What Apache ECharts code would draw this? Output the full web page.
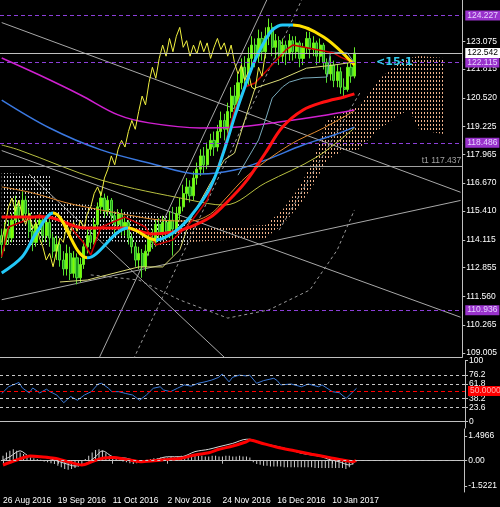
<!DOCTYPE html>
<html>
<head>
<meta charset="utf-8">
<script src="https://cdn.jsdelivr.net/npm/echarts@6.0.0/dist/echarts.min.js"></script>
<style>
  html, body { margin: 0; padding: 0; background: #000; }
  #chart { width: 500px; height: 507px; }
</style>
</head>
<body>
<div id="chart"></div>
<script>
// ---- data ----
const dateLabels = ['26 Aug 2016', '19 Sep 2016', '11 Oct 2016', '2 Nov 2016', '24 Nov 2016', '16 Dec 2016', '10 Jan 2017'];
const labelStep = 16;
const barCount = 135; // 104 candles + 26 bars of cloud ahead + margin

// [open, close, low, high]
const candles = [
  [114.3,113.9,113.3,114.6],[113.9,114.6,113.6,114.9],[114.6,114.2,113.9,115.0],[114.2,115.0,114.0,115.3],
  [115.0,115.6,114.8,116.1],[115.6,115.2,114.9,115.9],[115.2,115.9,115.0,116.3],[115.9,115.3,115.0,116.1],
  [115.3,114.5,114.2,115.5],[114.5,114.0,113.6,114.8],[114.0,114.8,113.8,115.2],[114.8,115.0,114.4,115.3],
  [115.0,114.3,114.0,115.2],[114.3,114.9,114.0,115.2],[114.9,114.2,113.8,115.1],[114.2,113.6,113.3,114.4],
  [113.6,113.9,113.2,114.3],[113.9,113.2,112.9,114.1],[113.2,112.8,112.5,113.6],[112.8,113.5,112.5,113.9],
  [113.5,112.6,112.3,113.8],[112.6,113.3,112.4,113.6],[113.3,112.4,112.1,113.5],[112.4,113.0,112.2,113.3],
  [113.0,113.8,112.8,114.1],[113.8,114.3,113.5,114.6],[114.3,114.0,113.7,114.7],[114.0,114.8,113.9,115.1],
  [114.8,115.6,114.6,115.8],[115.6,116.0,115.3,116.3],[116.0,115.4,115.1,116.2],[115.4,115.9,115.2,116.1],
  [115.9,115.2,114.9,116.0],[115.2,114.8,114.4,115.4],[114.8,115.3,114.6,115.5],[115.3,114.6,114.3,115.5],
  [114.6,114.9,114.3,115.2],[114.9,114.2,113.9,115.0],[114.2,113.8,113.5,114.4],[113.8,113.2,112.9,114.0],
  [113.2,113.5,112.8,113.8],[113.5,112.9,112.4,113.7],[112.9,113.6,112.7,113.9],[113.6,114.2,113.4,114.5],
  [114.2,114.0,113.7,114.6],[114.0,114.8,113.8,115.0],[114.8,114.4,114.1,115.1],[114.4,114.9,114.2,115.2],
  [114.9,114.5,114.1,115.1],[114.5,115.0,114.2,115.4],[115.0,114.6,113.4,115.6],[114.6,115.3,114.4,115.6],
  [115.3,115.6,115.0,116.0],[115.6,116.2,115.4,116.6],[116.2,116.5,115.9,116.9],[116.5,116.1,115.8,116.8],
  [116.1,116.9,115.9,117.2],[116.9,117.3,116.6,117.6],[117.3,117.9,117.0,118.2],[117.9,117.5,117.1,118.3],
  [117.5,118.2,117.3,118.5],[118.2,118.6,117.9,118.9],[118.6,118.3,117.9,119.0],[118.3,119.0,118.1,119.3],
  [119.0,119.5,118.7,119.9],[119.5,119.1,118.6,119.8],[119.1,119.9,118.9,120.3],[119.9,120.6,119.6,121.0],
  [120.6,120.2,119.8,121.1],[120.2,121.2,120.0,121.6],[121.2,121.9,120.9,122.3],[121.9,121.4,120.9,122.4],
  [121.4,122.3,121.1,122.8],[122.3,122.9,121.9,123.3],[122.9,122.4,121.9,123.2],[122.4,123.2,122.1,123.6],
  [123.2,122.6,122.2,123.5],[122.6,123.3,122.3,123.7],[123.3,123.7,122.9,124.1],[123.7,122.8,122.4,123.9],
  [122.8,123.1,122.3,123.4],[123.1,122.4,122.0,123.3],[122.4,122.9,122.1,123.2],[122.9,122.5,122.0,123.1],
  [122.5,123.1,122.2,123.4],[123.1,122.6,122.2,123.3],[122.6,123.0,122.3,123.3],[123.0,122.3,121.9,123.1],
  [122.3,122.8,122.0,123.0],[122.8,123.2,122.5,123.5],[123.2,122.7,122.3,123.5],[122.7,123.0,122.4,123.3],
  [123.0,122.4,122.0,123.1],[122.4,122.9,122.1,123.2],[122.9,122.1,121.8,123.0],[122.1,121.6,121.2,122.3],
  [121.6,122.0,121.3,122.4],[122.0,121.3,121.0,122.2],[121.3,121.7,121.0,122.0],[121.7,121.0,120.7,121.9],
  [121.0,120.9,120.6,121.4],[120.9,121.9,120.8,122.1],[121.9,121.5,121.2,122.2],[121.5,122.542,121.4,122.8]
];
const chikouShift = 26;

// colour-changing moving average: [bar, price]
const maLine = [[0,112.62],[6,113.35],[10,114.4],[15,115.32],[25,113.30],[37,114.65],[45,114.11],[50,114.42],
  [55,115.14],[61,116.50],[65,118.17],[68,119.66],[71,121.01],[74,122.23],[77,123.13],[79,123.58],
  [82,123.81],[85,123.81],[94,123.27],[103,122.00]];
const maTurns = [15, 25, 37, 45, 85];
const redMa = [[0,115.14],[13,115.14],[24,114.65],[36,114.65],[44,114.38],[50,114.47],[55,114.69],[61,115.14],
  [65,115.69],[71,116.68],[77,118.03],[82,119.20],[88,119.97],[94,120.33],[100,120.56],[103,120.70]];
const magentaMa = [[0,122.32],[11,121.55],[23,120.65],[34,119.75],[43,119.39],[58,119.16],[69,119.20],[81,119.43],[93,119.70],[103,119.97]];
const blueMa = [[0,120.42],[14,119.16],[29,118.17],[43,117.58],[58,117.08],[68,117.26],[77,117.71],[88,118.39],[97,118.84],[103,119.20]];
const orangeMa = [[0,116.50],[9,116.23],[19,115.78],[29,115.46],[37,115.23],[46,115.01],[55,114.96],[61,115.28],
  [65,115.91],[72,117.04],[84,118.39],[94,119.16],[103,119.93]];
const oliveMa = [[0,118.39],[5,118.17],[29,116.81],[55,115.91],[65,115.68],[77,116.68],[92,117.85],[103,119.16]];
const khakiLine = [[17,112.21],[25,112.30],[40,112.89],[47,112.89],[52,113.66],[55,115.01],[61,116.68],[65,117.72],
  [68,118.03],[71,119.52],[74,120.96],[81,121.32],[89,121.86],[97,122.00],[103,122.14]];
const tealLine = [[69,117.03],[75,118.62],[77,119.52],[79,120.51],[82,121.01],[84,121.23],[88,121.41],[95,121.46],
  [96,122.59],[101,122.54],[103,122.09]];
const tenkan = [[0,113.34],[2,114.69],[11,115.23],[19,114.87],[24,113.97],[26,113.43],[29,114.69],[36,115.14],
  [42,114.69],[45,113.88],[50,114.11],[55,114.87],[60,115.91],[61,116.36],[65,118.29],[68,119.97],[71,121.01],
  [74,121.19],[83,122.68],[85,122.90],[88,122.81],[97,122.54],[99,122.36],[103,122.09]];

// ichimoku cloud outlines
const cloudWhiteBars = [0, 14, 15, 26, 36, 45, 55];
const cloudWhiteTop = [117.13, 117.04, 115.82, 115.68, 115.37, 115.32, 115.01];
const cloudWhiteBottom = [113.88, 113.88, 114.11, 114.11, 114.02, 113.88, 113.88];
const cloudSandBars = [55, 66, 77, 82, 87, 91, 95, 100, 104, 110, 116, 119, 122, 129];
const cloudSandTop = [114.69, 114.69, 114.78, 115.46, 116.50, 117.72, 119.52, 119.88, 120.11, 121.33, 122.14, 122.32, 122.41, 122.32];
const cloudSandBottom = [114.02, 114.11, 114.20, 114.78, 115.68, 116.59, 117.72, 118.17, 118.17, 119.07, 119.75, 119.97, 119.07, 118.89];

// trend lines: [[bar, price], [bar, price]]
const trendSolid = [
  [[0,123.916],[134,116.26]],
  [[0,111.41],[134,115.89]],
  [[0,118.14],[134,110.62]],
  [[27,108.30],[79,125.46]],
  [[8,117.07],[66,108.67]]
];
const trendDashed = [
  [[37,108.24],[89,125.40]],
  [[81,114.55],[105,120.85]],
  [[26,112.53],[40,112.30],[52,111.40],[66,110.58],[78,110.95],[90,111.85],[98,113.66],[103,115.46]]
];

const levelsPurple = [124.227, 122.115, 118.486, 110.936];
const lastPrice = 122.542;
const targetLevel = 117.437;
const priceTicks = [123.075, 121.815, 120.520, 119.225, 117.965, 116.670, 115.410, 114.115, 112.855, 111.560, 110.265, 109.005];

const rsiLine = [[0,46],[2,57],[5,64],[6,55],[8,47],[9,55],[11,47],[13,53],[14,49],[16,43.5],[18,31],[20,41],[22,35],
  [24,43.5],[26,49],[28,61.5],[29,62.6],[31,54.5],[32,49],[34,49],[36,46],[38,43.5],[40,35],[42,43.5],[44,54.5],
  [46,57],[47,51.7],[49,49],[51,54.5],[53,60],[55,58],[57,62.6],[59,65],[61,68],[63,72.4],[64,77.8],[66,65],
  [67,72.4],[69,76],[71,74.6],[72,76],[74,62.6],[76,67],[79,70.8],[80,67],[81,60],[84,61.5],[87,57],[89,61.5],
  [92,57],[93,60],[96,49],[98,47.3],[100,38],[102,49],[103,54.5]];
const rsiLevels = [76.2, 61.8, 38.2, 23.6];
const rsiTicks = [100, 76.2, 61.8, 38.2, 23.6, 0];

const macdMain = [[0,0.04],[2,0.24],[5,0.6],[8,0.24],[11,0.24],[15,0.04],[18,-0.16],[21,-0.32],[24,-0.2],[27,0.24],
  [29,0.6],[32,0.24],[36,0.15],[40,-0.06],[44,0.04],[48,0.24],[52,0.24],[56,0.55],[60,0.69],[63,0.85],[67,1.05],
  [71,1.3],[72,1.3],[75,1.05],[78,0.95],[81,0.81],[84,0.65],[87,0.45],[90,0.35],[93,0.24],[95,0.08],[98,-0.06],
  [101,-0.26],[103,0]];
const macdSignal = [[0,-0.26],[4,0.04],[8,0.28],[11,0.24],[15,0.15],[19,-0.06],[23,-0.26],[26,-0.06],[29,0.15],
  [32,0.2],[36,0.08],[40,-0.06],[44,0],[48,0.08],[52,0.15],[56,0.35],[60,0.48],[63,0.69],[67,0.89],[71,1.15],
  [72,1.25],[75,1.09],[80,0.81],[85,0.6],[90,0.39],[95,0.2],[99,0.04],[102,-0.06],[103,0]];
const macdHist = [0.3,0.5,0.6,0.7,0.6,0.5,0.4,0.3, 0.2,0.15,0.1,0.05,-0.05,-0.1,-0.15,-0.2,
  -0.3,-0.4,-0.5,-0.55,-0.5,-0.45,-0.35,-0.2, 0.1,0.3,0.5,0.65,0.7,0.6,0.45,0.3,
  0.2,0.1,0.05,-0.05,-0.1,-0.15,-0.2,-0.15, -0.1,-0.05,0.05,0.1,0.15,0.15,0.2,0.2,
  0.2,0.25,0.2,0.25,0.3,0.3,0.3,0.25, 0.3,0.3,0.3,0.25,0.25,0.3,0.3,0.25,
  0.25,0.3,0.3,0.25,0.25,0.3,0.25,0.25, 0.2,-0.1,-0.2,-0.25,-0.3,-0.3,-0.35,-0.35,
  -0.35,-0.35,-0.4,-0.4,-0.4,-0.4,-0.4,-0.4, -0.4,-0.4,-0.4,-0.45,-0.45,-0.45,-0.45,-0.45,
  -0.45,-0.45,-0.45,-0.45,-0.5,-0.4,-0.25,-0.05];
const macdTicks = [1.4966, 0, -1.5221];

// ---- chart ----
const font = 'Liberation Sans';
const fs = 8.5;
const cats = Array.from({ length: barCount }, (_, i) => String(i));
const showDate = (i) => i % labelStep === 0 && i / labelStep < dateLabels.length;

function dotPattern(color) {
  const c = document.createElement('canvas');
  c.width = 3; c.height = 4;
  const ctx = c.getContext('2d');
  ctx.fillStyle = color;
  ctx.fillRect(1, 0, 1, 2);
  return { image: c, repeat: 'repeat' };
}

function cloud(bars, top, bottom, color) {
  return {
    type: 'custom', xAxisIndex: 0, yAxisIndex: 0, z: 1, silent: true,
    data: [[bars[0], top[0]]],
    renderItem: function (params, api) {
      const pts = [];
      for (let k = 0; k < bars.length; k++) pts.push(api.coord([bars[k], top[k]]));
      for (let k = bars.length - 1; k >= 0; k--) pts.push(api.coord([bars[k], bottom[k]]));
      return { type: 'polygon', shape: { points: pts }, style: { fill: dotPattern(color) } };
    }
  };
}

function line(data, color, width, extra) {
  return Object.assign({
    type: 'line', xAxisIndex: 0, yAxisIndex: 0, data: data, symbol: 'none', silent: true,
    smooth: 0.35, z: 3, lineStyle: { color: color, width: width }
  }, extra || {});
}

function tag(val, lineColor, bg, fg, dashed, text) {
  return {
    yAxis: val,
    lineStyle: { color: lineColor, width: 1, type: dashed ? [4, 3] : 'solid' },
    label: {
      show: true, position: 'end', distance: 3, formatter: text || val.toFixed(3),
      backgroundColor: bg, color: fg, padding: [1, 2, 0, 2], fontSize: fs, fontFamily: font
    }
  };
}

const series = [];
series.push(cloud(cloudWhiteBars, cloudWhiteTop, cloudWhiteBottom, '#d8d8d8'));
series.push(cloud(cloudSandBars, cloudSandTop, cloudSandBottom, '#f2b48c'));

trendSolid.forEach(t => series.push(line(t, '#a8a8a8', 1, { smooth: false, z: 2 })));
trendDashed.forEach(t => series.push(line(t, '#9a9a9a', 1, { smooth: false, z: 2, lineStyle: { color: '#9a9a9a', width: 1, type: [3, 3] } })));

series.push({
  type: 'candlestick', xAxisIndex: 0, yAxisIndex: 0, data: candles, barWidth: 2.6, z: 2, silent: true,
  itemStyle: { color: '#7cfc00', color0: '#1e9a1e', borderColor: '#66ee22', borderColor0: '#55dd33', borderWidth: 1 },
  markLine: {
    symbol: ['none', 'none'], silent: true, animation: false,
    data: levelsPurple.map(v => tag(v, '#8c3fd9', '#9932cc', '#e6d2ff', true))
      .concat([tag(lastPrice, '#c0c0c0', '#ffffff', '#000000', false)])
      .concat([{
        yAxis: targetLevel, lineStyle: { color: '#a0a0a0', width: 1, type: 'solid' },
        label: { show: true, position: 'insideEndTop', distance: 1, formatter: 't1 ' + targetLevel.toFixed(3), color: '#a0a0a0', fontSize: fs, fontFamily: font }
      }])
  },
  markPoint: {
    symbol: 'circle', symbolSize: 1, itemStyle: { color: 'rgba(0,0,0,0)' }, silent: true,
    data: [{ coord: [108, 122.14], label: { show: true, position: 'right', distance: 4, formatter: '<15:1', color: '#33ccee', fontSize: 11, fontWeight: 'bold', fontFamily: 'DejaVu Sans' } }]
  }
});

series.push(line(magentaMa, '#d020d0', 1.5));
series.push(line(blueMa, '#3a78e0', 1.5));
series.push(line(orangeMa, '#e08a30', 1));
series.push(line(oliveMa, '#b8c040', 1));
series.push(line(khakiLine, '#dcdc78', 1, { smooth: false }));
series.push(line(tealLine, '#78aabb', 1, { smooth: false }));
series.push(line(tenkan, '#c80000', 1.5, { smooth: false }));
series.push(line(candles.slice(chikouShift).map((c, k) => [k, c[1]]), '#f0f040', 1, { smooth: false }));
series.push(line(redMa, '#ff1010', 3));
const maIndex = series.length;
series.push(line(maLine, '#22c8f8', 3, { lineStyle: { width: 3 }, z: 4 }));

// RSI
series.push({
  type: 'line', xAxisIndex: 1, yAxisIndex: 1, data: rsiLine, symbol: 'none', silent: true,
  lineStyle: { color: '#3c7ad8', width: 1 },
  markLine: {
    symbol: ['none', 'none'], silent: true, animation: false,
    data: rsiLevels.map(v => ({ yAxis: v, lineStyle: { color: '#c8c8c8', width: 1, type: [3, 3] }, label: { show: false } }))
      .concat([tag(50, '#ff0000', '#ff0000', '#ffb0b0', true, '50.0000')])
  }
});

// MACD
series.push({
  type: 'bar', xAxisIndex: 2, yAxisIndex: 2, data: macdHist, barWidth: 1, silent: true,
  itemStyle: { color: '#d0d0d0' },
  markLine: {
    symbol: ['none', 'none'], silent: true, animation: false,
    data: [{ yAxis: 0, lineStyle: { color: '#c8c8c8', width: 1, type: [3, 3] }, label: { show: false } }]
  }
});
series.push({ type: 'line', xAxisIndex: 2, yAxisIndex: 2, data: macdMain, symbol: 'none', silent: true, smooth: 0.3, lineStyle: { color: '#d8d8d8', width: 1 } });
series.push({ type: 'line', xAxisIndex: 2, yAxisIndex: 2, data: macdSignal, symbol: 'none', silent: true, smooth: 0.3, lineStyle: { color: '#ff0000', width: 3 } });

const maPieces = [];
const cyan = '#22c8f8', yellow = '#ffe000';
let prev = null;
maTurns.concat([null]).forEach((t, k) => {
  const p = { color: k % 2 === 0 ? cyan : yellow };
  if (prev !== null) p.gte = prev;
  if (t !== null) p.lt = t;
  maPieces.push(p);
  prev = t;
});

function xAxis(g) {
  const last = g === 2;
  return {
    type: 'category', gridIndex: g, data: cats, boundaryGap: true,
    axisLine: { show: true, lineStyle: { color: '#c0c0c0', width: 1 } },
    axisTick: { show: last, interval: (i) => showDate(i), alignWithLabel: true, length: 3, lineStyle: { color: '#c0c0c0' } },
    axisLabel: {
      show: last, interval: (i) => showDate(i), formatter: (v) => dateLabels[Number(v) / labelStep],
      align: 'left', color: '#ffffff', fontSize: fs, fontFamily: font, margin: 4
    },
    splitLine: { show: false }
  };
}

function yAxis(g, min, max, ticks, fmt) {
  return {
    type: 'value', gridIndex: g, position: 'right', min: min, max: max,
    axisLine: { show: true, lineStyle: { color: '#c0c0c0', width: 1 } },
    axisTick: { show: true, customValues: ticks, length: 3, lineStyle: { color: '#c0c0c0' } },
    axisLabel: { customValues: ticks, formatter: fmt, color: '#ffffff', fontSize: fs, fontFamily: font, margin: 4 },
    splitLine: { show: false }
  };
}

const chart = echarts.init(document.getElementById('chart'), null, { renderer: 'canvas' });
chart.setOption({
  animation: false,
  backgroundColor: '#000000',
  grid: [
    { left: 0, right: 35, top: 0, height: 357 },
    { left: 0, right: 35, top: 360.4, height: 67.6 },
    { left: 0, right: 35, top: 429, height: 63 }
  ],
  xAxis: [xAxis(0), xAxis(1), xAxis(2)],
  yAxis: [
    yAxis(0, 108.825, 124.935, priceTicks, (v) => v.toFixed(3)),
    yAxis(1, -10.3, 100, rsiTicks, (v) => String(v)),
    yAxis(2, -1.897, 1.921, macdTicks, (v) => (v === 0 ? '0.00' : v.toFixed(4)))
  ],
  visualMap: [{ type: 'piecewise', show: false, seriesIndex: maIndex, dimension: 0, pieces: maPieces }],
  series: series
});
</script>
</body>
</html>
